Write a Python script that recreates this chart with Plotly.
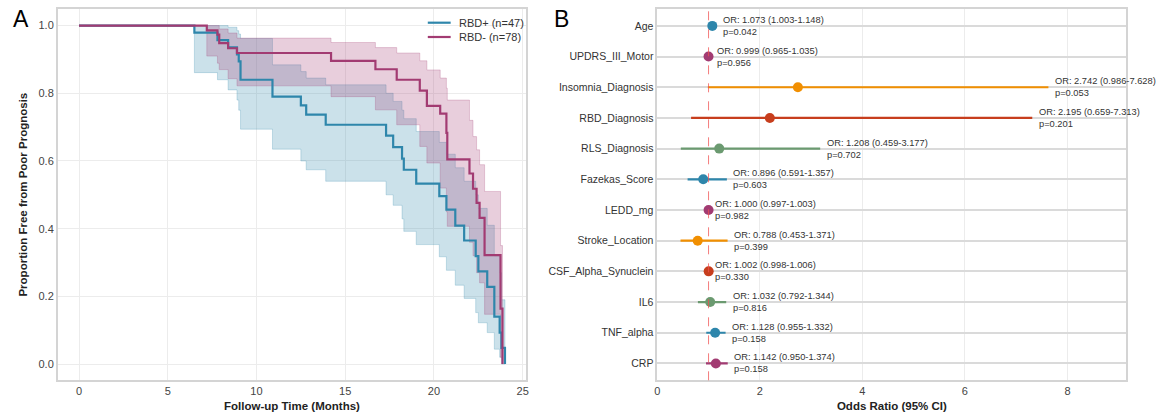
import plotly.graph_objects as go

# ---------------- Kaplan-Meier data (months, proportion free) ----------------
t_pos = [0, 6.5, 7.8, 8.4, 8.9, 9.0, 9.1, 10.9, 12.5, 12.8, 13.9, 17.3, 17.7, 18.2, 18.3,
         19.0, 20.3, 20.7, 21.2, 21.7, 22.35, 22.5, 23.0, 23.4, 23.7, 23.8, 24.0]
s_pos = [1.0, 0.979, 0.957, 0.936, 0.915, 0.894, 0.840, 0.790, 0.764, 0.737, 0.707, 0.675,
         0.641, 0.607, 0.574, 0.533, 0.496, 0.456, 0.409, 0.365, 0.319, 0.274, 0.228, 0.140,
         0.093, 0.048, 0.0]
lo_pos = [1.0, 0.861, 0.840, 0.810, 0.780, 0.750, 0.694, 0.635, 0.600, 0.574, 0.540, 0.500,
          0.469, 0.429, 0.392, 0.353, 0.317, 0.277, 0.233, 0.194, 0.152, 0.122, 0.093, 0.044,
          0.020, 0.0, 0.0]
hi_pos = [1.0, 1.0, 1.0, 0.995, 0.985, 0.975, 0.962, 0.884, 0.864, 0.845, 0.825, 0.800,
          0.776, 0.750, 0.725, 0.687, 0.655, 0.620, 0.580, 0.540, 0.500, 0.460, 0.410, 0.320,
          0.270, 0.190, 0.0]

t_neg = [0, 7.2, 7.8, 7.9, 8.4, 8.9, 14.2, 16.7, 17.9, 19.2, 19.6, 20.35, 20.7, 20.75,
         22.0, 22.2, 22.4, 22.57, 22.85, 23.75, 23.86]
s_neg = [1.0, 0.986, 0.973, 0.948, 0.933, 0.919, 0.896, 0.871, 0.840, 0.808, 0.763, 0.740,
         0.683, 0.605, 0.563, 0.518, 0.476, 0.432, 0.322, 0.164, 0.0]
lo_neg = [1.0, 0.910, 0.889, 0.870, 0.843, 0.822, 0.790, 0.751, 0.707, 0.643, 0.594, 0.520,
          0.450, 0.407, 0.360, 0.320, 0.270, 0.240, 0.147, 0.020, 0.0]
hi_neg = [1.0, 1.0, 1.0, 0.990, 0.978, 0.963, 0.950, 0.935, 0.919, 0.896, 0.869, 0.845,
          0.815, 0.780, 0.720, 0.672, 0.633, 0.589, 0.510, 0.350, 0.0]

group_labels = ["RBD+ (n=47)", "RBD- (n=78)"]

# ---------------- Logistic regression results ----------------
variables = ["Age", "UPDRS_III_Motor", "Insomnia_Diagnosis", "RBD_Diagnosis", "RLS_Diagnosis",
             "Fazekas_Score", "LEDD_mg", "Stroke_Location", "CSF_Alpha_Synuclein", "IL6",
             "TNF_alpha", "CRP"]
odds_ratio = [1.073, 0.999, 2.742, 2.195, 1.208, 0.896, 1.000, 0.788, 1.002, 1.032, 1.128, 1.142]
ci_low = [1.003, 0.965, 0.986, 0.659, 0.459, 0.591, 0.997, 0.453, 0.998, 0.792, 0.955, 0.950]
ci_high = [1.148, 1.035, 7.628, 7.313, 3.177, 1.357, 1.003, 1.371, 1.006, 1.344, 1.332, 1.374]
p_values = ["0.042", "0.956", "0.053", "0.201", "0.702", "0.603", "0.982", "0.399", "0.330",
            "0.816", "0.158", "0.158"]

BLUE = "#2E86AB"
MAGENTA = "#A23B72"
palette = ["#2E86AB", "#A23B72", "#F18F01", "#C73E1D", "#6B9A70"]

FONT = "Liberation Sans, Arial, Helvetica, sans-serif"
W, H = 1158, 413

fig = go.Figure()


def band(t, lo, hi, rgb):
    fig.add_trace(go.Scatter(x=t, y=lo, mode="lines", line=dict(shape="hv", width=0.8,
                             color=f"rgba({rgb},0.3)"), showlegend=False, hoverinfo="skip",
                             xaxis="x", yaxis="y"))
    fig.add_trace(go.Scatter(x=t, y=hi, mode="lines", line=dict(shape="hv", width=0.8,
                             color=f"rgba({rgb},0.3)"), fill="tonexty",
                             fillcolor=f"rgba({rgb},0.25)", showlegend=False,
                             hoverinfo="skip", xaxis="x", yaxis="y"))


band(t_pos, lo_pos, hi_pos, "46,134,171")
band(t_neg, lo_neg, hi_neg, "162,59,114")

fig.add_trace(go.Scatter(x=t_pos, y=s_pos, mode="lines", line=dict(shape="hv", width=2.2, color=BLUE),
                         name=group_labels[0], showlegend=False, xaxis="x", yaxis="y"))
fig.add_trace(go.Scatter(x=t_neg, y=s_neg, mode="lines", line=dict(shape="hv", width=2.2, color=MAGENTA),
                         name=group_labels[1], showlegend=False, xaxis="x", yaxis="y"))

# ---------------- Forest plot ----------------
ypos = list(range(len(variables)))
colors = [palette[i % len(palette)] for i in ypos]

for i in ypos:
    fig.add_trace(go.Scatter(x=[ci_low[i], ci_high[i]], y=[i, i], mode="lines",
                             line=dict(color=colors[i], width=2.2), showlegend=False,
                             hoverinfo="skip", xaxis="x2", yaxis="y2"))
fig.add_trace(go.Scatter(x=odds_ratio, y=ypos, mode="markers",
                         marker=dict(size=10, color=colors, line=dict(width=0)),
                         showlegend=False, xaxis="x2", yaxis="y2"))

annotations = []
for i in ypos:
    annotations.append(dict(
        x=ci_high[i] + 0.09, y=i, xref="x2", yref="y2", xanchor="left", yanchor="middle",
        align="left", showarrow=False,
        text=f"OR: {odds_ratio[i]:.3f} ({ci_low[i]:.3f}-{ci_high[i]:.3f})<br>p={p_values[i]}",
        font=dict(family=FONT, size=9.3, color="#333333")))

# panel letters
annotations.append(dict(x=8 / W, y=1 - 4 / H, xref="paper", yref="paper", xanchor="left",
                        yanchor="top", text="A", showarrow=False,
                        font=dict(family=FONT, size=23, color="black")))
annotations.append(dict(x=552 / W, y=1 - 4 / H, xref="paper", yref="paper", xanchor="left",
                        yanchor="top", text="B", showarrow=False,
                        font=dict(family=FONT, size=23, color="black")))

# KM legend (drawn inside the plot frame)
shapes = []
leg_rows = [(22.7, BLUE, group_labels[0]), (37.0, MAGENTA, group_labels[1])]
for ypx, col, lab in leg_rows:
    shapes.append(dict(type="line", xref="paper", yref="paper", x0=427 / W, x1=450 / W,
                       y0=1 - ypx / H, y1=1 - ypx / H, line=dict(color=col, width=2.2)))
    annotations.append(dict(x=456 / W, y=1 - ypx / H, xref="paper", yref="paper",
                            xanchor="left", yanchor="middle", text=lab, showarrow=False,
                            font=dict(family=FONT, size=11, color="#333333")))

# reference line at OR = 1
shapes.append(dict(type="line", xref="x2", yref="paper", x0=1, x1=1,
                   y0=1 - 380.3 / H, y1=1 - 9 / H,
                   line=dict(color="rgba(240,80,80,0.75)", width=1, dash="dash")))

ydom = [1 - 380.3 / H, 1 - 9 / H]
axis_common = dict(showline=True, mirror=True, linecolor="#d4d4d4", linewidth=1.5,
                   zeroline=False, ticks="", tickfont=dict(family=FONT, size=11, color="#444444"))

fig.update_layout(
    width=W, height=H,
    margin=dict(l=0, r=0, t=0, b=0),
    paper_bgcolor="white", plot_bgcolor="white",
    font=dict(family=FONT),
    xaxis=dict(domain=[55 / W, 526 / W], range=[-1.2, 25.2], tickvals=[0, 5, 10, 15, 20, 25],
               gridcolor="#ececec", gridwidth=1, anchor="y",
               title=dict(text="<b>Follow-up Time (Months)</b>", standoff=6,
                          font=dict(family=FONT, size=11.5, color="#222222")),
               **axis_common),
    yaxis=dict(domain=ydom, range=[-0.048, 1.049], tickvals=[0, 0.2, 0.4, 0.6, 0.8, 1.0],
               ticktext=["0.0", "0.2", "0.4", "0.6", "0.8", "1.0"],
               gridcolor="#ececec", gridwidth=1, anchor="x",
               title=dict(text="<b>Proportion Free from Poor Prognosis</b>", standoff=8,
                          font=dict(family=FONT, size=11.5, color="#222222")),
               **axis_common),
    xaxis2=dict(domain=[657.7 / W, 1129.3 / W], range=[0, 9.15], tickvals=[0, 2, 4, 6, 8],
                gridcolor="#ececec", gridwidth=1, anchor="y2",
                title=dict(text="<b>Odds Ratio (95% CI)</b>", standoff=6,
                           font=dict(family=FONT, size=11.5, color="#222222")),
                **axis_common),
    yaxis2=dict(domain=ydom, range=[11.55, -0.55], tickvals=ypos, ticktext=variables,
                gridcolor="#dadada", gridwidth=1.5, anchor="x2",
                showline=True, mirror=True, linecolor="#d4d4d4", linewidth=1.5,
                zeroline=False, ticks="",
                tickfont=dict(family=FONT, size=10.5, color="#333333")),
    annotations=annotations,
    shapes=shapes,
)

fig.write_html("out.html")
